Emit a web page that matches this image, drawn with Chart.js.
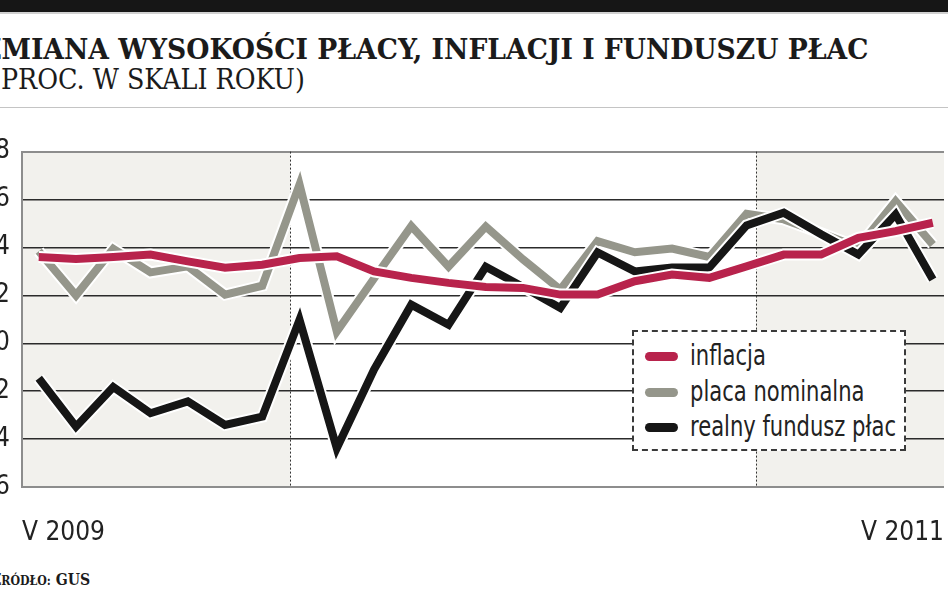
<!DOCTYPE html>
<html>
<head>
<meta charset="utf-8">
<script src="https://cdn.jsdelivr.net/npm/chart.js@4.4.0/dist/chart.umd.min.js"></script>
<style>
    html, body { margin: 0; padding: 0; width: 948px; height: 593px; overflow: hidden; background: #fff; }
    body { position: relative; }
    .topbar { position: absolute; left: 0; top: 0; width: 948px; height: 12px; background: #161616; }
    .topline { position: absolute; left: 0; top: 12px; width: 948px; height: 2px; background: #d0d0d0; }
    .rule { position: absolute; left: 0; top: 107px; width: 948px; height: 1px; background: #c4c4c4; }
    .txt { position: absolute; white-space: nowrap; transform-origin: 0 0; color: #1b1b1b; line-height: 1; }
    .title { top: 34px; font: bold 27px "DejaVu Serif Condensed", "DejaVu Serif", serif; }
    .subtitle { top: 64px; font: 27px "DejaVu Serif Condensed", "DejaVu Serif", serif; }
    .source { top: 570px; font: bold 16px "DejaVu Serif Condensed", "DejaVu Serif", serif; }
    .source .sc { font-size: 12.5px; }
    .chart-box { position: absolute; left: -40px; top: 124px; width: 1015px; height: 425px; }
    .legend { position: absolute; left: 632px; top: 330px; width: 270px; height: 117px; background: #fff;
              border: 2px dashed #3a3a3a; font: 28px "DejaVu Sans Condensed", sans-serif; color: #222; }
    .legend .row { position: absolute; left: 0; height: 30px; }
    .legend .swatch { position: absolute; left: 11px; top: 11px; width: 33px; height: 9px; border-radius: 5px; }
    .legend .label { position: absolute; left: 56px; top: 0; line-height: 30px; white-space: nowrap; transform-origin: 0 50%; }
</style>
</head>
<body>
<div class="topbar"></div>
<div class="topline"></div>
<div class="txt title" data-start="1" data-width="867"><span class="cut">Z</span><span class="vis">MIANA WYSOKOŚCI PŁACY, INFLACJI I FUNDUSZU PŁAC</span></div>
<div class="txt subtitle" data-start="1" data-width="304"><span class="cut">(</span><span class="vis">PROC. W SKALI ROKU)</span></div>
<div class="rule"></div>
<div class="chart-box"><canvas id="chart"></canvas></div>
<div class="legend" id="legend"></div>
<div class="txt source" data-start="1" data-width="89"><span class="cut">Ź</span><span class="vis"><span class="sc">RÓDŁO:</span> GUS</span></div>

<script>
// miesiące V 2009 - V 2011
const months = ['V', 'VI', 'VII', 'VIII', 'IX', 'X', 'XI', 'XII',
    'I', 'II', 'III', 'IV', 'V', 'VI', 'VII', 'VIII', 'IX', 'X', 'XI', 'XII',
    'I', 'II', 'III', 'IV', 'V'];
const xTickLabels = ['V 2009', 'V 2011'];
const yTicks = [8, 6, 4, 2, 0, -2, -4, -6];

const inflacja = [3.6, 3.52, 3.6, 3.7, 3.42, 3.15, 3.28, 3.56, 3.63, 3.0, 2.73, 2.52, 2.35,
    2.31, 2.03, 2.03, 2.59, 2.87, 2.73, 3.21, 3.7, 3.7, 4.4, 4.68, 5.03];
const placaNominalna = [3.84, 2.0, 3.94, 2.96, 3.21, 2.03, 2.4, 6.63, 0.49, 2.7, 4.89, 3.2, 4.87,
    3.5, 2.24, 4.26, 3.8, 3.95, 3.6, 5.4, 5.17, 4.6, 4.0, 5.93, 4.12];
const realnyFundusz = [-1.46, -3.48, -1.83, -2.92, -2.43, -3.41, -3.06, 0.98, -4.38, -1.1, 1.61, 0.77, 3.19,
    2.35, 1.47, 3.79, 3.0, 3.16, 3.16, 4.92, 5.45, 4.55, 3.7, 5.38, 2.66];

// zacienione okresy (w jednostkach indeksu miesiąca)
const shadedRanges = [[-0.45, 6.75], [19.25, 24.3]];
const yearBreaks = [6.75, 19.25];

const series = [
    { label: 'inflacja', data: inflacja, color: '#b8234c', order: 1 },
    { label: 'placa nominalna', data: placaNominalna, color: '#95968b', order: 3 },
    { label: 'realny fundusz płac', data: realnyFundusz, color: '#161616', order: 2 }
];

// tytuły przycięte z lewej jak na oryginale
document.querySelectorAll('.txt').forEach(el => {
    const cut = el.querySelector('.cut').getBoundingClientRect().width;
    const vis = el.querySelector('.vis').getBoundingClientRect().width;
    const scale = parseFloat(el.dataset.width) / vis;
    el.style.transform = `scaleX(${scale})`;
    el.style.left = (parseFloat(el.dataset.start) - cut * scale) + 'px';
});

// legenda
const legend = document.getElementById('legend');
const rowTops = [9, 45, 80];
const labels = series.map((s, i) => {
    const row = document.createElement('div');
    row.className = 'row';
    row.style.top = rowTops[i] + 'px';
    row.innerHTML = `<div class="swatch" style="background:${s.color}"></div><div class="label">${s.label}</div>`;
    legend.appendChild(row);
    return row.querySelector('.label');
});
const widest = Math.max(...labels.map(l => l.getBoundingClientRect().width));
labels.forEach(l => { l.style.transform = `scaleX(${206 / widest})`; });

const backgroundPlugin = {
    id: 'background',
    beforeDraw(chart) {
        const { ctx, chartArea, scales } = chart;
        ctx.save();
        ctx.fillStyle = '#f2f1ed';
        shadedRanges.forEach(([a, b]) => {
            const x1 = Math.max(scales.x.getPixelForValue(a), chartArea.left);
            const x2 = Math.min(scales.x.getPixelForValue(b), chartArea.right);
            ctx.fillRect(x1, chartArea.top, x2 - x1, chartArea.bottom - chartArea.top);
        });
        ctx.restore();
    },
    beforeDatasetsDraw(chart) {
        const { ctx, chartArea, scales } = chart;
        ctx.save();
        ctx.strokeStyle = '#333';
        ctx.lineWidth = 1;
        ctx.setLineDash([2, 2]);
        yearBreaks.forEach(v => {
            const x = Math.round(scales.x.getPixelForValue(v)) + 0.5;
            ctx.beginPath();
            ctx.moveTo(x, chartArea.top);
            ctx.lineTo(x, chartArea.bottom);
            ctx.stroke();
        });
        ctx.restore();
    },
    beforeDatasetDraw(chart, args) {
        // biała obwódka pod linią
        const { ctx } = chart;
        const pts = args.meta.data;
        ctx.save();
        ctx.strokeStyle = '#ffffff';
        ctx.lineWidth = chart.data.datasets[args.index].borderWidth + 4;
        ctx.lineJoin = 'miter';
        ctx.beginPath();
        pts.forEach((p, i) => i ? ctx.lineTo(p.x, p.y) : ctx.moveTo(p.x, p.y));
        ctx.stroke();
        ctx.restore();
    }
};

const axisFont = { family: '"DejaVu Sans Condensed", sans-serif', size: 26 };

new Chart(document.getElementById('chart'), {
    type: 'line',
    data: {
        datasets: series.map(s => ({
            label: s.label,
            data: s.data.map((v, i) => ({ x: i, y: v })),
            borderColor: s.color,
            backgroundColor: s.color,
            borderWidth: 8,
            borderJoinStyle: 'miter',
            pointRadius: 0,
            tension: 0,
            order: s.order
        }))
    },
    options: {
        responsive: true,
        maintainAspectRatio: false,
        animation: false,
        layout: { padding: { top: 22, right: 10, left: 0, bottom: 0 } },
        plugins: {
            legend: { display: false },
            tooltip: { enabled: false }
        },
        scales: {
            x: {
                type: 'linear',
                min: -0.45,
                max: 24.3,
                afterBuildTicks: scale => {
                    scale.ticks = [{ value: scale.min }, { value: scale.max }];
                },
                afterFit: scale => { scale.height = 62; },
                ticks: {
                    callback: (v, i) => xTickLabels[i],
                    align: 'inner',
                    autoSkip: false,
                    maxRotation: 0,
                    padding: 31,
                    color: '#222',
                    font: axisFont
                },
                grid: { display: false, drawTicks: false },
                border: { display: false }
            },
            y: {
                min: -6,
                max: 8,
                afterBuildTicks: scale => {
                    scale.ticks = yTicks.map(v => ({ value: v }));
                },
                afterFit: scale => { scale.width = 62; },
                ticks: {
                    padding: 12,
                    color: '#222',
                    font: axisFont
                },
                grid: {
                    drawTicks: false,
                    color: c => (c.tick.value === 8 || c.tick.value === -6) ? '#8d8d8d' : '#2b2b2b',
                    lineWidth: c => (c.tick.value === 8 || c.tick.value === -6) ? 2 : 1.4
                },
                border: { display: true, color: '#8d8d8d', width: 2 }
            }
        }
    },
    plugins: [backgroundPlugin]
});
</script>
</body>
</html>
